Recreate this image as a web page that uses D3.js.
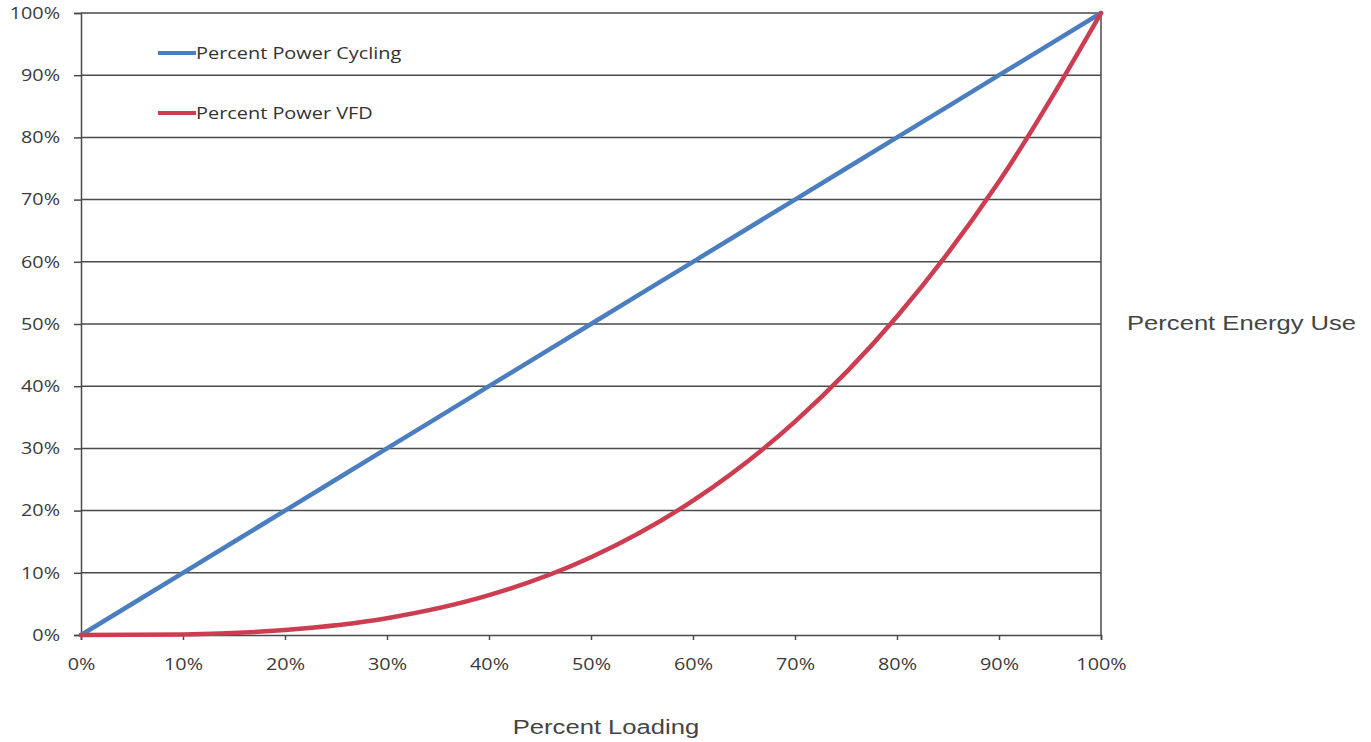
<!DOCTYPE html>
<html>
<head>
<meta charset="utf-8">
<script src="https://cdn.jsdelivr.net/npm/d3@7"></script>
<style>
  html, body { margin: 0; padding: 0; background: #fff; }
  svg { display: block; }
</style>
</head>
<body>
<svg id="chart" width="1371" height="742"></svg>
<script>
// Percent loading (x) and percent power for each operating strategy
const loading = [0, 10, 20, 30, 40, 50, 60, 70, 80, 90, 100];
const powerCycling = [0, 10, 20, 30, 40, 50, 60, 70, 80, 90, 100];
const powerVFD = [0, 0.1, 0.8, 2.7, 6.4, 12.5, 21.6, 34.3, 51.2, 72.9, 100];
const xTicks = [0, 10, 20, 30, 40, 50, 60, 70, 80, 90, 100];
const yTicks = [0, 10, 20, 30, 40, 50, 60, 70, 80, 90, 100];
const seriesNames = ["Percent Power Cycling", "Percent Power VFD"];
const seriesColors = ["#4a7ebf", "#cc3d51"];

const svg = d3.select("#chart");
const plot = { left: 81, right: 1101, top: 13, bottom: 635 };

const x = d3.scaleLinear().domain([0, 100]).range([plot.left, plot.right]);
const y = d3.scaleLinear().domain([0, 100]).range([plot.bottom, plot.top]);

const tickFont = "'Open Sans', 'Noto Sans', sans-serif";
const titleFont = "'Liberation Sans', Arial, sans-serif";
const tickColor = "#3a3a3a";
const axisColor = "#4a4a4a";
// Text in this layout is set slightly wide
const wide = 1.2;

// Horizontal gridlines
svg.append("g")
  .selectAll("line")
  .data(yTicks.filter(d => d > 0))
  .join("line")
  .attr("x1", plot.left).attr("x2", plot.right)
  .attr("y1", d => y(d)).attr("y2", d => y(d))
  .attr("stroke", axisColor).attr("stroke-width", 1.5);

// Right border of plot area
svg.append("line")
  .attr("x1", plot.right).attr("x2", plot.right)
  .attr("y1", plot.top).attr("y2", plot.bottom)
  .attr("stroke", axisColor).attr("stroke-width", 1.5);

// Y axis
const yAxis = d3.axisLeft(y).tickValues(yTicks).tickFormat(d => d + "%").tickSize(7);
const gy = svg.append("g").attr("transform", `translate(${plot.left},0)`).call(yAxis);
gy.select(".domain").attr("stroke", axisColor).attr("stroke-width", 1.5);
gy.selectAll(".tick line").attr("stroke", axisColor).attr("stroke-width", 1.5);
gy.selectAll(".tick text")
  .attr("x", 0)
  .attr("transform", `translate(-21,0) scale(${wide},1)`)
  .attr("fill", tickColor)
  .style("font-family", tickFont)
  .style("font-size", "16.5px");

// X axis
const xAxis = d3.axisBottom(x).tickValues(xTicks).tickFormat(d => d + "%").tickSize(5).tickPadding(18);
const gx = svg.append("g").attr("transform", `translate(0,${plot.bottom})`).call(xAxis);
gx.select(".domain").attr("stroke", axisColor).attr("stroke-width", 1.5);
gx.selectAll(".tick line").attr("stroke", axisColor).attr("stroke-width", 1.5);
gx.selectAll(".tick text")
  .attr("transform", `scale(${wide},1)`)
  .attr("fill", tickColor)
  .style("font-family", tickFont)
  .style("font-size", "16.5px");

// Series lines
const series = [powerCycling, powerVFD];
const line = d3.line()
  .x((d, i) => x(loading[i]))
  .y(d => y(d))
  .curve(d3.curveMonotoneX);

svg.append("g")
  .selectAll("path")
  .data(series)
  .join("path")
  .attr("d", d => line(d))
  .attr("fill", "none")
  .attr("stroke", (d, i) => seriesColors[i])
  .attr("stroke-width", 4.5)
  .attr("stroke-linecap", "round")
  .attr("stroke-linejoin", "round");

// Legend inside the plot area
const legend = svg.append("g");
const legendRows = seriesNames.map((name, i) => ({ name, color: seriesColors[i], cy: 53 + i * 60 }));
legend.selectAll("line")
  .data(legendRows)
  .join("line")
  .attr("x1", 158).attr("x2", 196)
  .attr("y1", d => d.cy).attr("y2", d => d.cy)
  .attr("stroke", d => d.color).attr("stroke-width", 4);
legend.selectAll("text")
  .data(legendRows)
  .join("text")
  .attr("transform", d => `translate(196,${d.cy}) scale(1.17,1)`)
  .attr("dy", "0.35em")
  .attr("fill", "#333")
  .style("font-family", tickFont)
  .style("font-size", "17px")
  .text(d => d.name);

// Axis titles
svg.append("text")
  .attr("transform", `translate(606,734) scale(1.22,1)`)
  .attr("text-anchor", "middle")
  .attr("fill", "#444")
  .style("font-family", titleFont)
  .style("font-size", "21px")
  .text("Percent Loading");

svg.append("text")
  .attr("transform", `translate(1127,330) scale(1.22,1)`)
  .attr("fill", "#444")
  .style("font-family", titleFont)
  .style("font-size", "21px")
  .text("Percent Energy Use");
</script>
</body>
</html>
